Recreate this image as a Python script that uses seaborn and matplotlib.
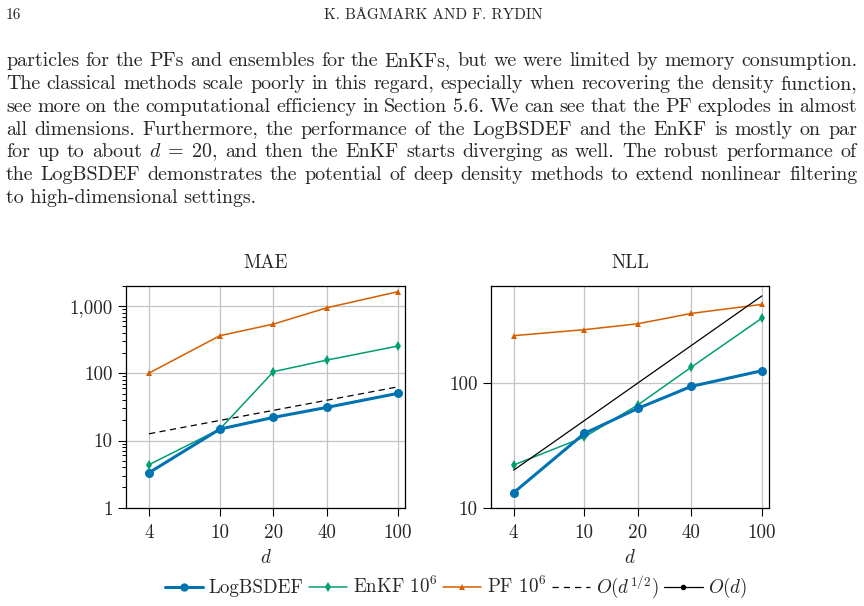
import numpy as np
import matplotlib
matplotlib.use("Agg")
import matplotlib.pyplot as plt
import matplotlib.ticker as mticker
from matplotlib.lines import Line2D
import seaborn as sns

# ---------- Data ----------
dims = [4, 10, 20, 40, 100]

mae_logbsdef = [3.32, 14.8, 22.1, 31.2, 50.4]
mae_enkf = [4.37, 14.8, 106, 158, 255]
mae_pf = [101, 364, 542, 950, 1644]
mae_sqrt_d = [12.6, 63.0]          # O(d^{1/2}) reference, at d = 4 and d = 100

nll_logbsdef = [13.2, 39.4, 62.6, 94.0, 125.6]
nll_enkf = [22.0, 36.9, 66.7, 134, 332]
nll_pf = [240, 268, 299, 362, 428]
nll_lin_d = [20.0, 500.0]          # O(d) reference, at d = 4 and d = 100
ref_dims = [4, 100]

mae_yticks = [1, 10, 100, 1000]
mae_yticklabels = ["1", "10", "100", "1,000"]
nll_yticks = [10, 100]
nll_yticklabels = ["10", "100"]
xtick_labels = ["4", "10", "20", "40", "100"]

header_left = "16"
header_center = "K. BÅGMARK AND F. RYDIN"
body_lines = [
    "particles for the PFs and ensembles for the EnKFs, but we were limited by memory consumption.",
    "The classical methods scale poorly in this regard, especially when recovering the density function,",
    "see more on the computational efficiency in Section 5.6. We can see that the PF explodes in almost",
    "all dimensions. Furthermore, the performance of the LogBSDEF and the EnKF is mostly on par",
    r"for up to about $d\;=\;20$, and then the EnKF starts diverging as well. The robust performance of",
    "the LogBSDEF demonstrates the potential of deep density methods to extend nonlinear filtering",
    "to high-dimensional settings.",
]

# ---------- Style ----------
sns.set_theme(style="ticks", palette="colorblind")
cb = sns.color_palette("colorblind")
c_blue, c_green, c_orange = cb[0], cb[2], cb[3]

plt.rcParams["font.family"] = ["cmr10", "Liberation Serif"]
plt.rcParams["mathtext.fontset"] = "cm"
plt.rcParams["axes.formatter.use_mathtext"] = True
FS = 13.7
FS_BODY = 14.4

W, H = 864, 606
fig = plt.figure(figsize=(W / 100, H / 100), dpi=100)

# ---------- Page text ----------
fig.text(6 / W, 1 - 19 / H, header_left, fontsize=11, ha="left", va="baseline")
fig.text(433 / W, 1 - 19 / H, header_center, fontsize=11, ha="center", va="baseline")

renderer = fig.canvas.get_renderer()
x_left, x_right = 6, 857
for i, line in enumerate(body_lines):
    y = 1 - (66.5 + 22.7 * i) / H
    words = line.split(" ")
    if i == len(body_lines) - 1:
        fig.text(x_left / W, y, line, fontsize=FS_BODY, ha="left", va="baseline")
        continue
    # justify the line: spread the words over the text width
    texts = [fig.text(0, y, w, fontsize=FS_BODY, ha="left", va="baseline") for w in words]
    widths = [t.get_window_extent(renderer).width for t in texts]
    gap = (x_right - x_left - sum(widths)) / (len(words) - 1)
    x = x_left
    for t, wd in zip(texts, widths):
        t.set_x(x / W)
        x += wd + gap

# ---------- Axes ----------
ax_mae = fig.add_axes([126 / W, 1 - 507.7 / H, 279.3 / W, 222 / H])
ax_nll = fig.add_axes([490.7 / W, 1 - 507.7 / H, 278.6 / W, 222 / H])

def draw_methods(ax, logb, enkf, pf):
    sns.lineplot(x=dims, y=pf, ax=ax, color=c_orange, marker="^", markersize=5,
                 linewidth=1.1, markeredgewidth=0, label="PF $10^6$")
    sns.lineplot(x=dims, y=enkf, ax=ax, color=c_green, marker="d", markersize=5,
                 linewidth=1.1, markeredgewidth=0, label="EnKF $10^6$")
    sns.lineplot(x=dims, y=logb, ax=ax, color=c_blue, marker="o", markersize=6.5,
                 linewidth=2.2, markeredgewidth=0, label="LogBSDEF")

draw_methods(ax_mae, mae_logbsdef, mae_enkf, mae_pf)
sns.lineplot(x=ref_dims, y=mae_sqrt_d, ax=ax_mae, color="black", linewidth=0.9,
             linestyle=(0, (5, 3.5)), label="$O(d^{1/2})$")

draw_methods(ax_nll, nll_logbsdef, nll_enkf, nll_pf)
sns.lineplot(x=ref_dims, y=nll_lin_d, ax=ax_nll, color="black", linewidth=0.9,
             label="$O(d)$")

for ax, title, yl, yt, ytl in [
    (ax_mae, "MAE", (1, 2020), mae_yticks, mae_yticklabels),
    (ax_nll, "NLL", (10, 604), nll_yticks, nll_yticklabels),
]:
    if ax.get_legend() is not None:
        ax.get_legend().remove()
    ax.set_xscale("log")
    ax.set_yscale("log")
    ax.set_xlim(2.97, 110)
    ax.set_ylim(*yl)
    ax.xaxis.set_major_locator(mticker.FixedLocator(dims))
    ax.xaxis.set_major_formatter(mticker.FixedFormatter(xtick_labels))
    ax.xaxis.set_minor_locator(mticker.NullLocator())
    ax.yaxis.set_major_locator(mticker.FixedLocator(yt))
    ax.yaxis.set_major_formatter(mticker.FixedFormatter(ytl))
    ax.grid(True, which="major", color="#c4c4c4", linewidth=0.9)
    ax.set_axisbelow(True)
    for sp in ax.spines.values():
        sp.set_visible(True)
        sp.set_color("black")
        sp.set_linewidth(0.9)
    ax.tick_params(axis="x", which="major", pad=6)
    ax.tick_params(axis="y", which="major", pad=4)
    ax.tick_params(axis="both", which="major", direction="out", length=5.5, width=0.8,
                   labelsize=FS, color="black")
    ax.tick_params(axis="both", which="minor", direction="out", length=3, width=0.7,
                   color="black")
    ax.set_title(title, fontsize=FS, pad=13)
    ax.set_xlabel("$d$", fontsize=FS, labelpad=5.5)
    ax.set_ylabel("")

ax_mae.yaxis.set_minor_locator(mticker.LogLocator(base=10, subs=np.arange(2, 10)))
ax_mae.yaxis.set_minor_formatter(mticker.NullFormatter())
ax_nll.yaxis.set_minor_locator(mticker.NullLocator())

# ---------- Legend ----------
handles = [
    Line2D([], [], color=c_blue, marker="o", markersize=6, linewidth=2.2, markeredgewidth=0),
    Line2D([], [], color=c_green, marker="d", markersize=5, linewidth=1.1, markeredgewidth=0),
    Line2D([], [], color=c_orange, marker="^", markersize=5, linewidth=1.1, markeredgewidth=0),
    Line2D([], [], color="black", linewidth=0.9, linestyle=(0, (5, 4))),
    Line2D([], [], color="black", marker="o", markersize=3, linewidth=0.9),
]
labels = ["LogBSDEF", "EnKF $10^6$", "PF $10^6$", "$O(d^{1/2})$", "$O(d)$"]
fig.legend(handles, labels, loc="center", bbox_to_anchor=(456 / W, 1 - 587 / H), ncol=5,
           frameon=False, fontsize=FS, handlelength=2.0, handletextpad=0.3,
           columnspacing=0.3, borderaxespad=0)

fig.savefig("out.png", dpi=100)
